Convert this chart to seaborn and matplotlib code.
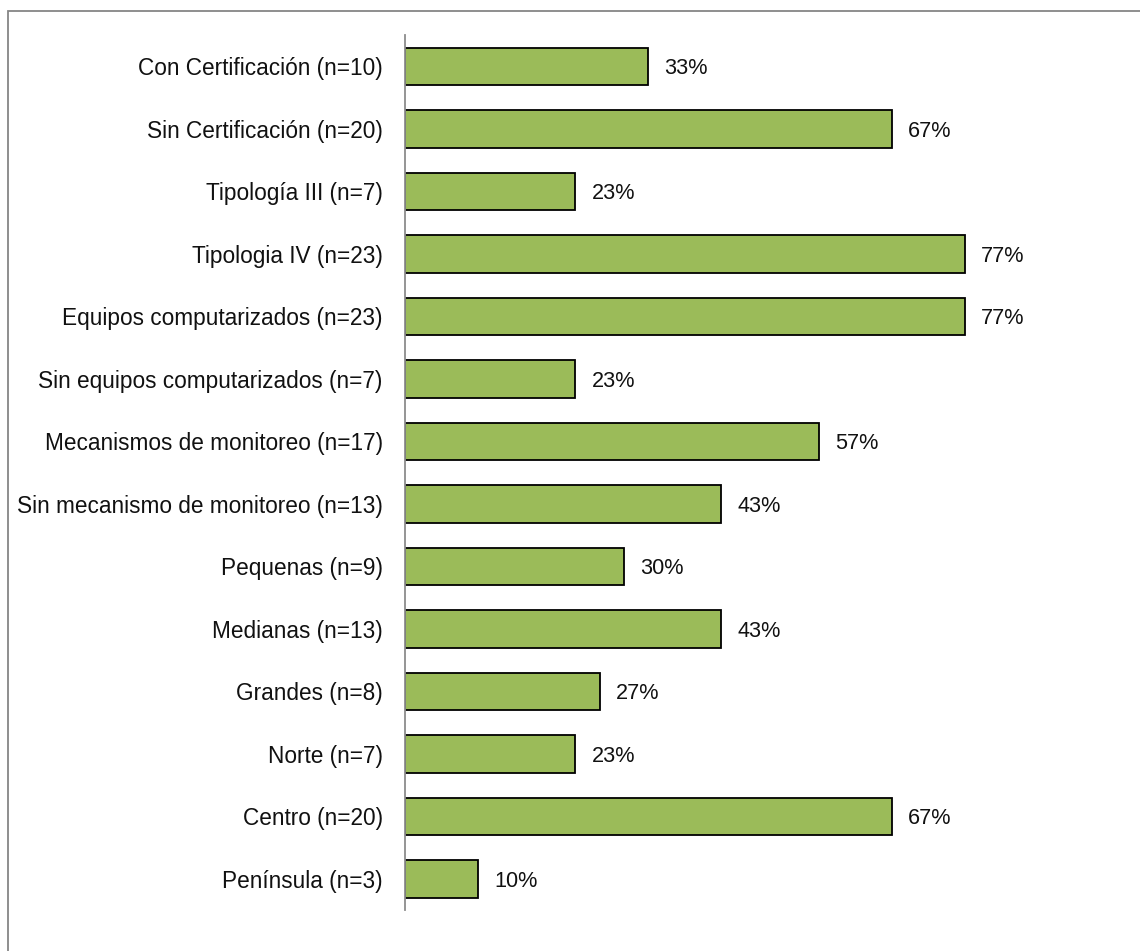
import matplotlib
matplotlib.use("Agg")
import matplotlib.pyplot as plt
import seaborn as sns
import pandas as pd
from matplotlib.patches import Rectangle

categories = [
    "Con Certificación (n=10)",
    "Sin Certificación (n=20)",
    "Tipología III (n=7)",
    "Tipologia IV (n=23)",
    "Equipos computarizados (n=23)",
    "Sin equipos computarizados (n=7)",
    "Mecanismos de monitoreo (n=17)",
    "Sin mecanismo de monitoreo (n=13)",
    "Pequenas (n=9)",
    "Medianas (n=13)",
    "Grandes (n=8)",
    "Norte (n=7)",
    "Centro (n=20)",
    "Península (n=3)",
]
counts = [10, 20, 7, 23, 23, 7, 17, 13, 9, 13, 8, 7, 20, 3]
total = 30
percent = [c / total * 100 for c in counts]

df = pd.DataFrame({"categoria": categories, "pct": percent})

sns.set_theme(style="white")
plt.rcParams["font.family"] = ["Liberation Sans", "DejaVu Sans"]

W, H = 1140, 951
fig = plt.figure(figsize=(W / 100, H / 100), dpi=100)
ax = fig.add_axes([405 / W, 1 - 910 / H, 730 / W, (910 - 35) / H])

sns.barplot(data=df, y="categoria", x="pct", orient="h", color="#9BBB59",
            saturation=1, edgecolor="black", linewidth=1.3, width=0.6, ax=ax)

ax.set_xlim(0, 100)
ax.set_ylim(len(categories) - 0.5, -0.5)
ax.set_xlabel("")
ax.set_ylabel("")
ax.set_xticks([])
for s in ["top", "right", "bottom"]:
    ax.spines[s].set_visible(False)
ax.spines["left"].set_color("#8c8c8c")
ax.spines["left"].set_linewidth(1.3)
ax.tick_params(axis="y", length=0, pad=16, labelsize=16.3, labelcolor="#111111")

for i, v in enumerate(percent):
    ax.text(v + 2.2, i + 0.04, f"{v:.0f}%", va="center", ha="left",
            fontsize=15.6, color="#111111")

# outer frame
fig.patches.append(Rectangle((8 / W, -0.1), 1.2, 1 - 11 / H + 0.1,
                             transform=fig.transFigure, fill=False,
                             edgecolor="#868686", linewidth=1.3))

fig.savefig("out.png", dpi=100)
